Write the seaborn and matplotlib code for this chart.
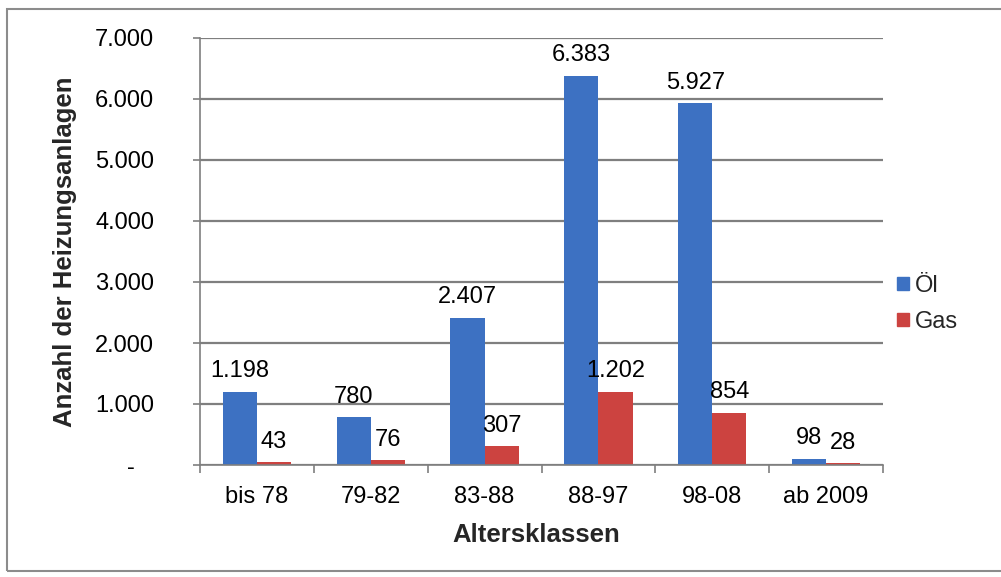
import matplotlib
matplotlib.use("Agg")
import matplotlib.pyplot as plt
import seaborn as sns
import pandas as pd
from matplotlib.patches import Rectangle
from matplotlib.ticker import FuncFormatter, FixedLocator

# Heating systems by age class
klassen = ["bis 78", "79-82", "83-88", "88-97", "98-08", "ab 2009"]
oel = [1198, 780, 2407, 6383, 5927, 98]
gas = [43, 76, 307, 1202, 854, 28]
serien = ["Öl", "Gas"]
y_ticks = [0, 1000, 2000, 3000, 4000, 5000, 6000, 7000]

df = pd.DataFrame({
    "Altersklassen": klassen * 2,
    "Anzahl": oel + gas,
    "Energie": [serien[0]] * len(klassen) + [serien[1]] * len(klassen),
})

sns.set_theme(style="white")
plt.rcParams["font.family"] = ["Liberation Sans", "DejaVu Sans"]

palette = {"Öl": "#3d71c2", "Gas": "#cc4340"}
grid_col = "#7f7f7f"

fig = plt.figure(figsize=(10.01, 5.77), dpi=100)
fig.patch.set_facecolor("white")
ax = fig.add_axes([200 / 1001, 1 - 465 / 577, 683 / 1001, 427 / 577])

sns.barplot(data=df, x="Altersklassen", y="Anzahl", hue="Energie",
            order=klassen, hue_order=serien, palette=palette,
            width=0.6, gap=0, saturation=1, edgecolor="none",
            ax=ax, legend=False)


def de_fmt(v):
    return f"{int(v):,}".replace(",", ".")


for cont, vals in zip(ax.containers, [oel, gas]):
    ax.bar_label(cont, labels=[de_fmt(v) for v in vals], padding=7,
                 fontsize=17, color="black")

ax.set_ylim(0, 7000)
ax.set_xlim(-0.5, len(klassen) - 0.5)
ax.yaxis.set_major_locator(FixedLocator(y_ticks))
ax.yaxis.set_major_formatter(FuncFormatter(
    lambda v, p: "-   " if v == 0 else de_fmt(v)))
ax.grid(axis="y", color=grid_col, linewidth=1.6)
ax.set_axisbelow(True)

for s in ["top", "right"]:
    ax.spines[s].set_visible(False)
for s in ["left", "bottom"]:
    ax.spines[s].set_color(grid_col)
    ax.spines[s].set_linewidth(1.2)

ax.tick_params(axis="y", which="major", left=True, length=5, width=1.2,
               color=grid_col, pad=28, labelsize=17, labelcolor="black")
ax.tick_params(axis="x", which="major", bottom=False, pad=9,
               labelsize=17, labelcolor="black")
ax.set_xticks([i - 0.5 for i in range(len(klassen) + 1)], minor=True)
ax.tick_params(axis="x", which="minor", bottom=True, length=6, width=1.2,
               color=grid_col)

ax.set_xlabel("Altersklassen", fontsize=18.5, fontweight="bold")
ax.set_ylabel("Anzahl der Heizungsanlagen", fontsize=18.5, fontweight="bold")
ax.xaxis.set_label_coords(0.493, -0.135)
ax.yaxis.set_label_coords(-0.18, 0.5)

handles = [Rectangle((0, 0), 1, 1, color=palette[s]) for s in serien]
fig.legend(handles, serien, loc="center left",
           bbox_to_anchor=(876 / 1001, 1 - 304 / 577), frameon=False,
           fontsize=17, handlelength=0.5, handleheight=0.5,
           handletextpad=0.25, labelspacing=0.6)

# outer chart frame
fig.add_artist(Rectangle((7 / 1001, 1 - 571 / 577), 1.0, 562 / 577,
                         transform=fig.transFigure, fill=False,
                         edgecolor="#8c8c8c", linewidth=1.5))

fig.savefig("out.png", dpi=100, facecolor="white")
